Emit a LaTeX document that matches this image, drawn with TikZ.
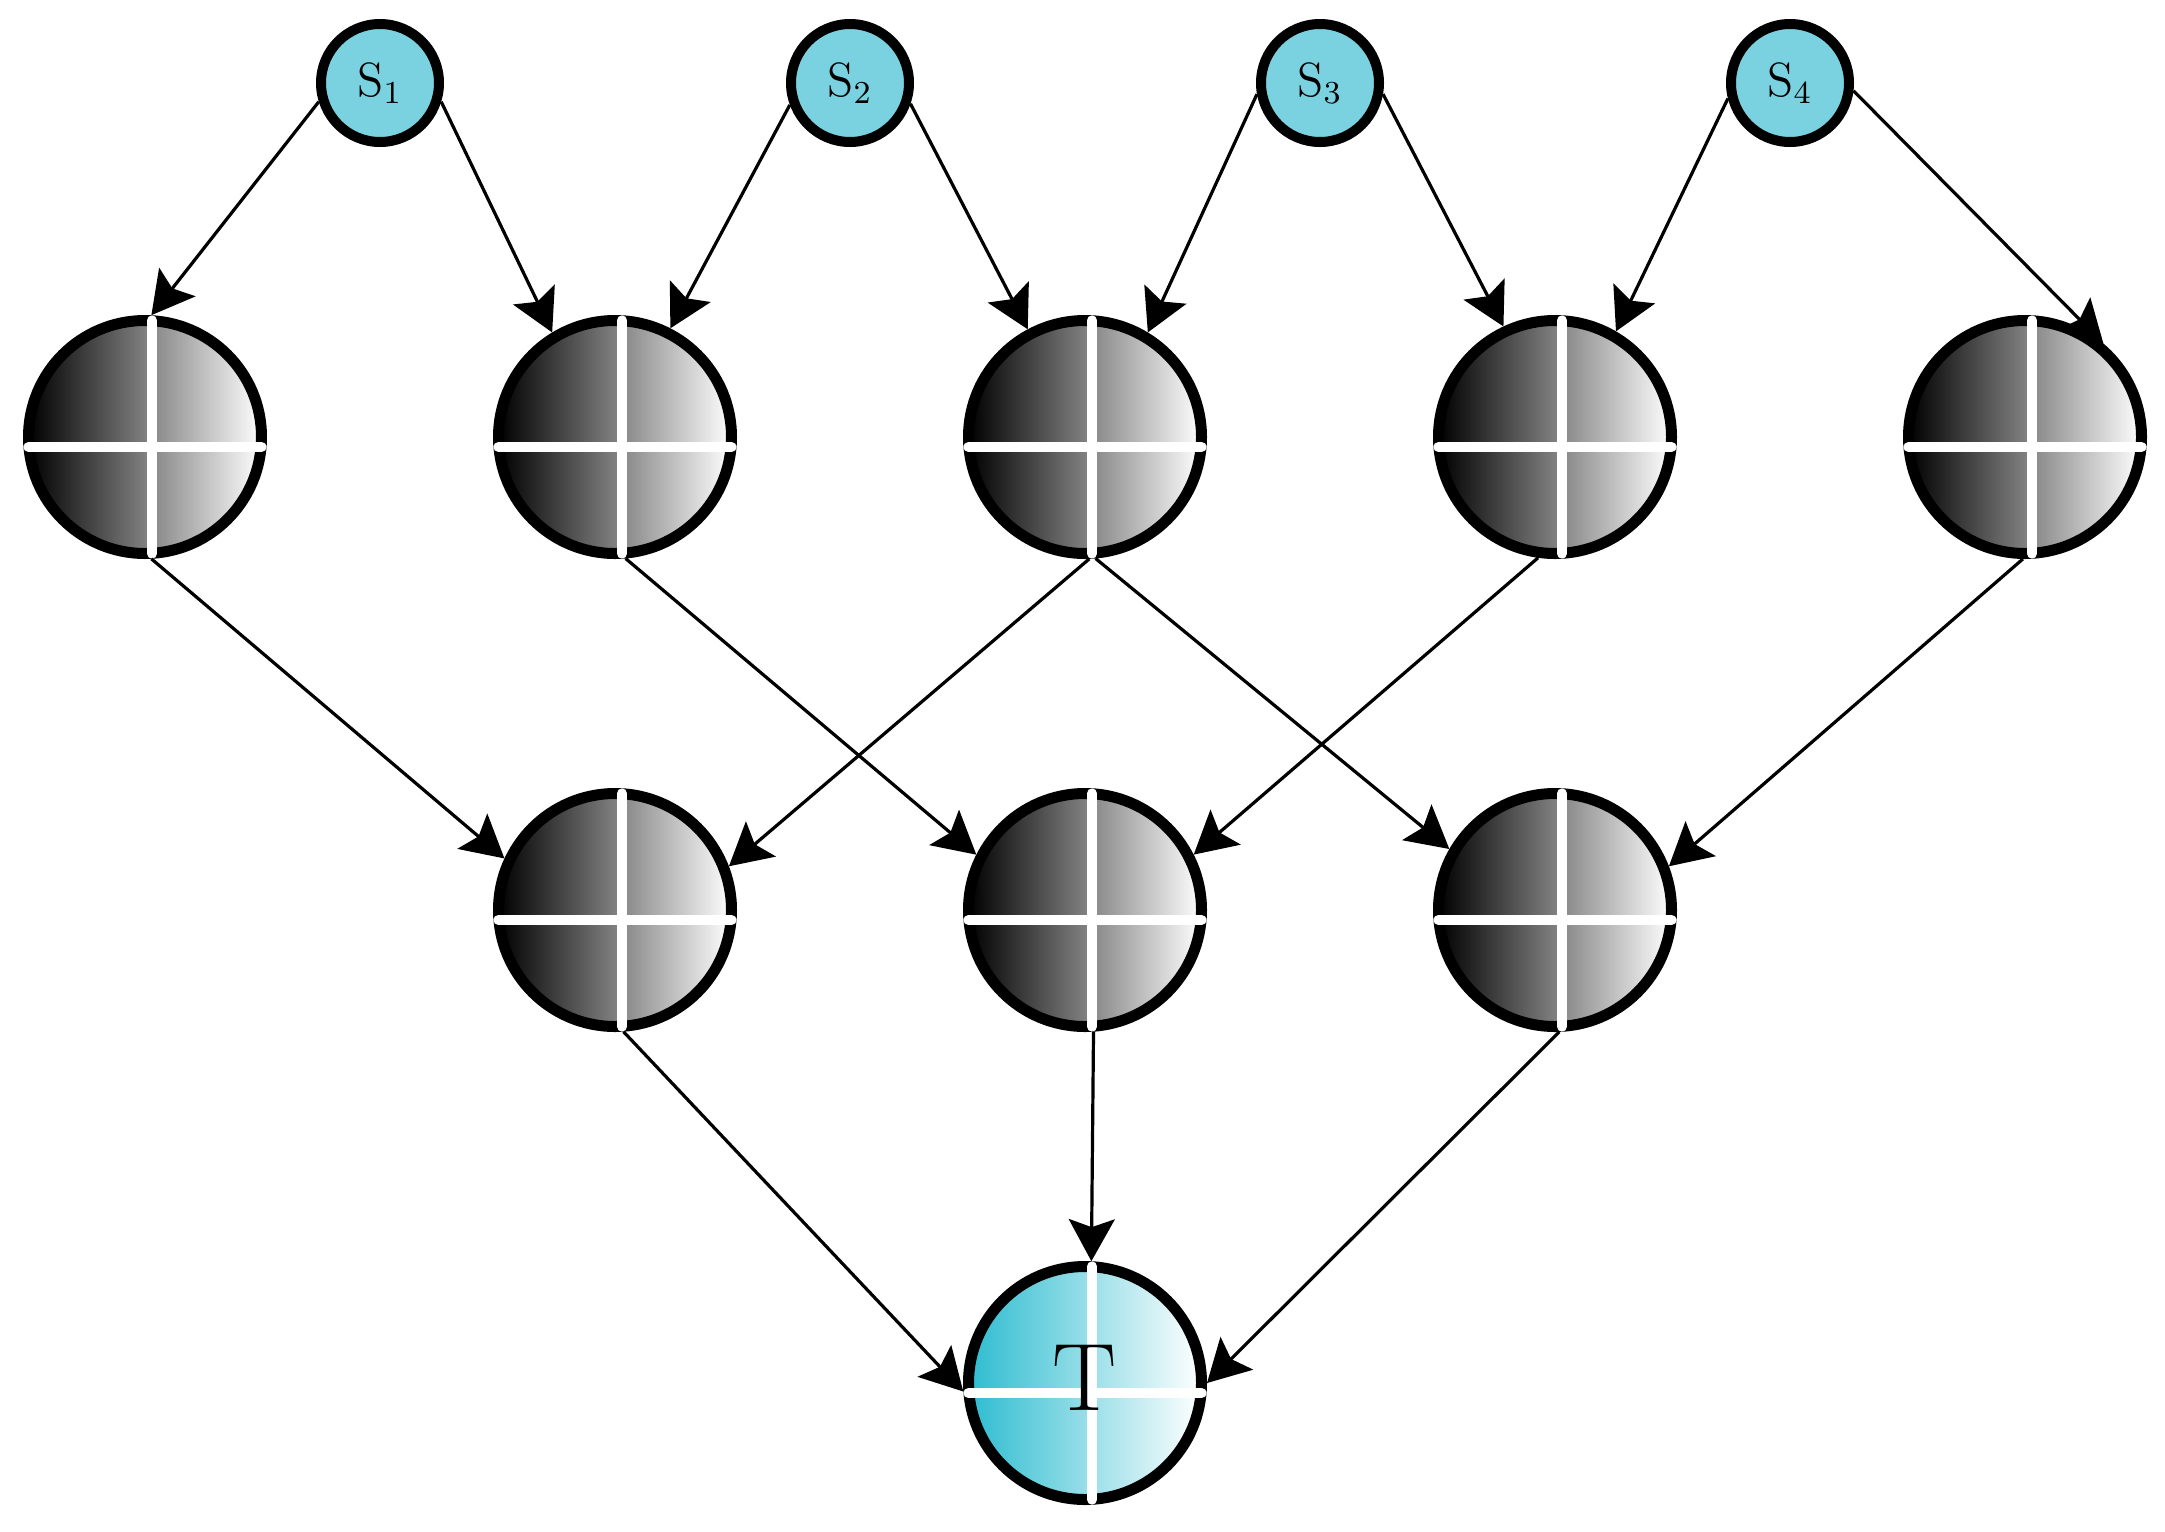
\documentclass[tikz,border=0pt]{standalone}
\usepackage{fontspec}
\usetikzlibrary{arrows.meta,calc}
\definecolor{scyan}{RGB}{122,210,224}
\definecolor{tcyan}{RGB}{45,188,208}
\begin{document}
\begin{tikzpicture}[x=0.25pt,y=-0.25pt,
  snode/.style={circle,draw=black,line width=2.5pt,fill=scyan,minimum size=29.5pt,inner sep=0pt,font=\fontsize{12}{14}\selectfont},
  gnode/.style={circle,draw=black,line width=2.75pt,left color=black,right color=white,minimum size=58.25pt,inner sep=0pt},
  tnode/.style={gnode,left color=tcyan,right color=white},
  tlabel/.style={inner sep=0pt,font=\fontsize{24}{28}\selectfont},
  crossline/.style={white,line width=2.6pt,line cap=round},
  conn/.style={line width=0.8pt,-{Stealth[length=10.5pt,width=11.5pt,inset=2pt]}}]
\useasboundingbox (0,0) rectangle (2165,1532);
% source nodes
\node[snode] (s1) at (380,83) {$\mathrm{S}_{1}$};
\node[snode] (s2) at (850,83) {$\mathrm{S}_{2}$};
\node[snode] (s3) at (1320,83) {$\mathrm{S}_{3}$};
\node[snode] (s4) at (1790,83) {$\mathrm{S}_{4}$};
% first row
\node[gnode] (r11) at (145,437) {};
\node[gnode] (r12) at (615,437) {};
\node[gnode] (r13) at (1085,437) {};
\node[gnode] (r14) at (1555,437) {};
\node[gnode] (r15) at (2025,437) {};
% second row
\node[gnode] (r21) at (615,910) {};
\node[gnode] (r22) at (1085,910) {};
\node[gnode] (r23) at (1555,910) {};
% target
\node[tnode] (t) at (1085,1383) {};
% white crosses
\foreach \n in {r11,r12,r13,r14,r15,r21,r22,r23,t}{
  \draw[crossline] ($(\n)+(7,-116.5)$) -- ($(\n)+(7,116.5)$);
  \draw[crossline] ($(\n)+(-116.5,10)$) -- ($(\n)+(116.5,10)$);
}
\node[tlabel] (tl) at ($(t)+(0,-5)$) {T};
% connectors
\draw[conn] (s1.197) -- (r11.87);
\draw[conn] (s1.-17) -- (r12.121);
\draw[conn] (s2.200) -- (r12.63);
\draw[conn] (s2.-19) -- (r13.118);
\draw[conn] (s3.190) -- (r13.59);
\draw[conn] (s3.-10) -- (r14.115);
\draw[conn] (s4.194) -- (r14.60);
\draw[conn] (s4.-7) -- (r15.50);
\draw[conn] (r11.273) -- (r21.155);
\draw[conn] (r12.275) -- (r22.153);
\draw[conn] (r13.272) -- (r21.21);
\draw[conn] (r13.275) -- (r23.150);
\draw[conn] (r14.262) -- (r22.27);
\draw[conn] (r15.269) -- (r23.21);
\draw[conn] (r21.274) -- (t.184);
\draw[conn] (r22.274) -- (t.87);
\draw[conn] (r23.272) -- (t.0);
\end{tikzpicture}
\end{document}
